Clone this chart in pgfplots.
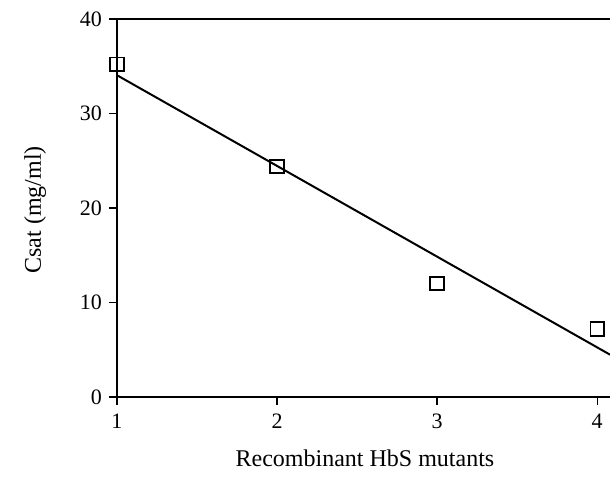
\documentclass[border=0pt]{standalone}
\usepackage{fontspec}
\setmainfont{Liberation Serif}
\usepackage{pgfplots}
\pgfplotsset{compat=1.18}
\begin{document}
\begin{tikzpicture}
\begin{axis}[
    scale only axis,
    width=246.5pt, height=189pt,
    xmin=1, xmax=4.08, ymin=0, ymax=40,
    axis x line*=box, axis y line*=left,
    axis line style={line width=0.8pt},
    xtick={1,2,3,4}, ytick={0,10,20,30,40},
    xtick pos=bottom, ytick pos=left,
    tick align=outside, major tick length=4pt,
    tick style={line width=0.7pt, black},
    /pgf/number format/assume math mode=true,
    tick label style={font=\fontsize{11}{13}\selectfont},
    xticklabel style={yshift=-1pt},
    label style={font=\fontsize{12}{14}\selectfont},
    xlabel={Recombinant HbS mutants},
    ylabel={Csat (mg/ml)},
    xlabel style={at={(axis description cs:0.503,-0.161)}, anchor=center},
    ylabel style={at={(axis description cs:-0.166,0.495)}, anchor=center, rotate=0},
    clip=true,
]
\coordinate (sw) at (rel axis cs:0,0);
\coordinate (ne) at (rel axis cs:1,1);
\addplot[black, line width=1pt] coordinates {(1,34.05) (4.08,4.48)};
\addplot[only marks, mark=square, mark size=3.4pt, mark options={line width=0.9pt, fill=white}] coordinates {
    (1,35.2) (2,24.4) (3,12.0) (4,7.2)};
\end{axis}
\pgfresetboundingbox
\path ([shift={(-58.5pt,-48pt)}]sw) rectangle ([shift={(0pt,9.5pt)}]ne);
\end{tikzpicture}
\end{document}
